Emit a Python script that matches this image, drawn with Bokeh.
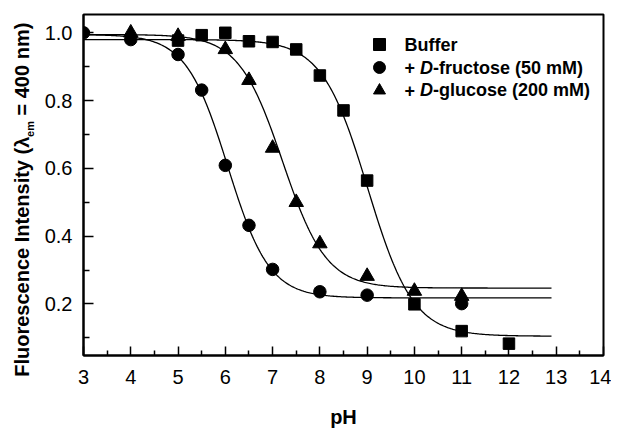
import numpy as np
from bokeh.plotting import figure
from bokeh.layouts import row
from bokeh.models import Range1d, FixedTicker, Label, Legend, LegendItem, PrintfTickFormatter
from bokeh.embed import file_html
from bokeh.resources import INLINE

# ---- data ----
buffer_ph = [5, 5.5, 6, 6.5, 7, 7.5, 8, 8.5, 9, 10, 11, 12]
buffer_int = [0.977, 0.993, 1.0, 0.975, 0.973, 0.951, 0.874, 0.771, 0.564, 0.199, 0.12, 0.083]
fructose_ph = [3, 4, 5, 5.5, 6, 6.5, 7, 8, 9, 11]
fructose_int = [1.0, 0.98, 0.936, 0.831, 0.609, 0.432, 0.302, 0.236, 0.226, 0.201]
glucose_ph = [4, 5, 6, 6.5, 7, 7.5, 8, 9, 10, 11]
glucose_int = [1.0, 0.99, 0.951, 0.86, 0.66, 0.50, 0.378, 0.282, 0.238, 0.223]

# Boltzmann fit parameters of the drawn curves: [top, bottom, x0, dx]
buffer_fit = [0.98, 0.105, 9.01, 0.482]
fructose_fit = [0.995, 0.218, 6.05, 0.44]
glucose_fit = [0.995, 0.247, 7.21, 0.462]
fit_range = [3.0, 12.9]

x_ticks = [3, 4, 5, 6, 7, 8, 9, 10, 11, 12, 13, 14]
y_ticks = [0.2, 0.4, 0.6, 0.8, 1.0]
series_labels = ["Buffer", "+ D-fructose (50 mM)", "+ D-glucose (200 mM)"]
y_title = ["Fluorescence Intensity (λ", "em", "= 400 nm)"]

FONT = "Liberation Sans"
H = 429
LW = 40

p = figure(frame_width=520, frame_height=341, min_border_left=43, min_border_right=8,
           min_border_top=14, min_border_bottom=H - 14 - 341, output_backend="svg",
           toolbar_location=None, x_range=Range1d(3, 14), y_range=Range1d(0.048, 1.054),
           align="start")
p.grid.visible = False
p.outline_line_color = "black"
p.outline_line_width = 2
p.background_fill_color = "white"
p.border_fill_color = "white"


def boltzmann(params, xs):
    a1, a2, x0, dx = params
    return a2 + (a1 - a2) / (1 + np.exp((xs - x0) / dx))


xs = np.linspace(fit_range[0], fit_range[1], 400)
for fit in (buffer_fit, fructose_fit, glucose_fit):
    p.line(xs, boltzmann(fit, xs), line_color="black", line_width=1.3)

r_buf = p.scatter(buffer_ph, buffer_int, marker="square", size=11.5, color="black")
r_fru = p.scatter(fructose_ph, fructose_int, marker="circle", size=12.5, color="black")
r_glu = p.scatter(glucose_ph, glucose_int, marker="triangle", size=14.5, color="black")

# axes
for ax in (p.xaxis[0], p.yaxis[0]):
    ax.axis_line_width = 2
    ax.major_tick_line_width = 1.5
    ax.minor_tick_line_width = 1.5
    ax.major_tick_out = 0
    ax.minor_tick_out = 0
    ax.major_label_text_font = FONT
    ax.major_label_text_font_size = "20px"
    ax.major_label_text_color = "black"

p.xaxis.ticker = FixedTicker(ticks=x_ticks, minor_ticks=[t + 0.5 for t in x_ticks[:-1]])
p.xaxis.major_tick_in = 9
p.xaxis.minor_tick_in = 5
p.xaxis.major_label_standoff = 14
p.xaxis.axis_label = "pH"
p.xaxis.axis_label_text_font = FONT
p.xaxis.axis_label_text_font_style = "bold"
p.xaxis.axis_label_text_font_size = "20px"
p.xaxis.axis_label_text_color = "black"
p.xaxis.axis_label_standoff = 19

p.yaxis.ticker = FixedTicker(ticks=y_ticks, minor_ticks=[round(t - 0.1, 2) for t in y_ticks])
p.yaxis.formatter = PrintfTickFormatter(format="%.1f")
p.yaxis.major_tick_in = 10
p.yaxis.minor_tick_in = 6
p.yaxis.major_label_standoff = 11

# legend: markers via Legend, texts via labels (italic D)
rows_y = [311, 287.7, 265.5]
for r, vy in zip((r_buf, r_fru, r_glu), rows_y):
    leg = Legend(items=[LegendItem(label="", renderers=[r])], location=(281, vy - 15),
                 glyph_width=30, glyph_height=30, label_width=0, label_height=0,
                 label_standoff=0, padding=0, margin=0, spacing=0,
                 border_line_color=None, background_fill_alpha=0,
                 label_text_font_size="1px")
    p.add_layout(leg)

lt = dict(x_units="screen", y_units="screen", text_font=FONT, text_font_size="18px",
          text_color="black", text_baseline="middle", text_align="left")
tx = 321
p.add_layout(Label(x=tx, y=rows_y[0], text=series_labels[0], text_font_style="bold", **lt))
w_plus = 0.862 * 18
w_D = 0.722 * 18
for lab, vy in zip(series_labels[1:], rows_y[1:]):
    rest = lab[3:]
    p.add_layout(Label(x=tx, y=vy, text="+", text_font_style="bold", **lt))
    p.add_layout(Label(x=tx + w_plus, y=vy, text="D", text_font_style="bold italic", **lt))
    p.add_layout(Label(x=tx + w_plus + w_D, y=vy, text=rest, text_font_style="bold", **lt))

# y-axis title (with subscript) in a narrow side figure
t = figure(title=None, frame_width=LW, frame_height=H, min_border=0, output_backend="svg",
           toolbar_location=None, x_range=Range1d(0, LW), y_range=Range1d(0, H),
           x_axis_location=None, y_axis_location=None, align="start")
t.grid.visible = False
t.outline_line_color = None
t.background_fill_color = "white"
t.border_fill_color = "white"

ylab_size = 20
sub_size = 11
w1 = 11.978 * ylab_size
w2 = 1.445 * sub_size
gap = 0.278 * ylab_size
w3 = 4.641 * ylab_size
y0 = 67
common = dict(angle=np.pi / 2, text_font=FONT, text_font_style="bold", text_color="black",
              text_align="center", text_baseline="middle")
t.add_layout(Label(x=21, y=y0 + w1 / 2, text=y_title[0],
                   text_font_size=f"{ylab_size}px", **common))
t.add_layout(Label(x=29, y=y0 + w1 + w2 / 2, text=y_title[1],
                   text_font_size=f"{sub_size}px", **common))
t.add_layout(Label(x=21, y=y0 + w1 + w2 + gap + w3 / 2, text=y_title[2],
                   text_font_size=f"{ylab_size}px", **common))

layout = row(t, p, spacing=0, align="start")
open("out.html", "w").write(file_html(layout, INLINE))
